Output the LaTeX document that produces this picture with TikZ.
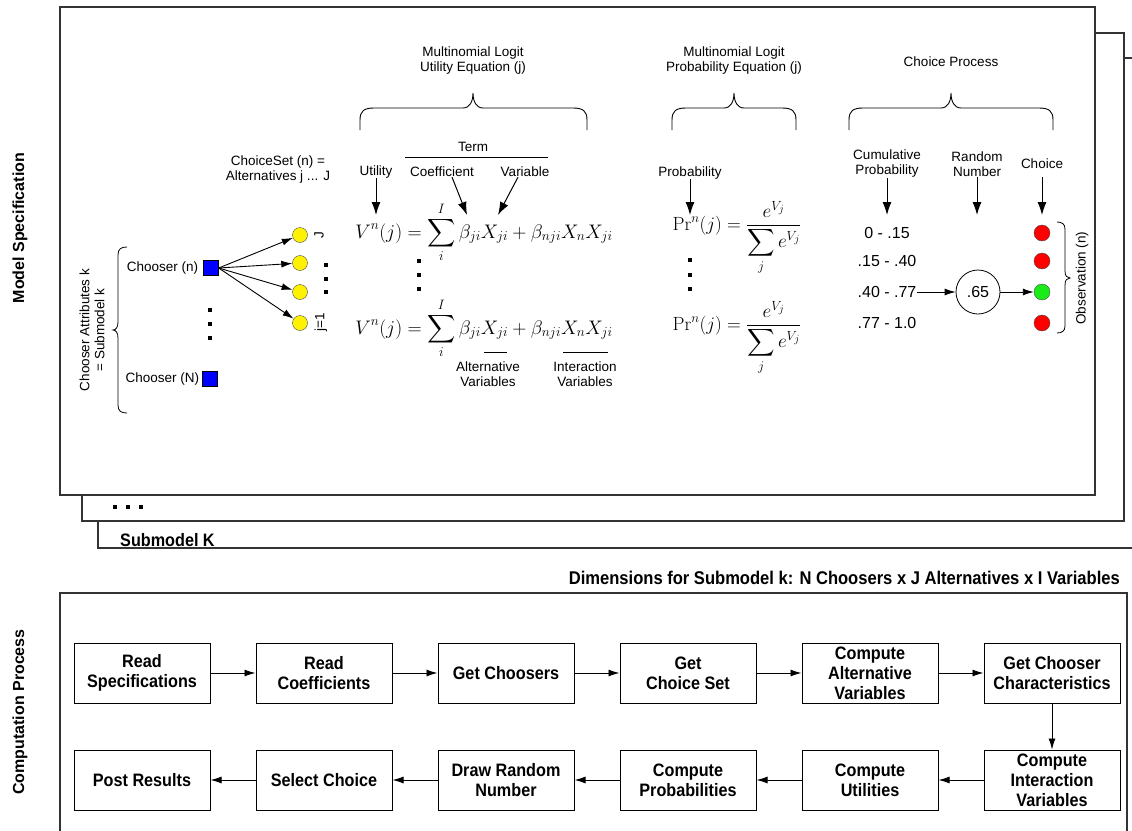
\documentclass[tikz,border=0pt]{standalone}
\usepackage{amsmath}
\usepackage[no-math]{fontspec}
\setmainfont{Liberation Sans}
\newfontfamily\narrowfont[FakeStretch=0.9]{Liberation Sans}
\usetikzlibrary{arrows.meta,positioning}
\definecolor{okgreen}{RGB}{25,235,25}

\tikzset{
  frame/.style={draw=black!80, line width=1.2pt},
  txt/.style={font=\fontsize{13.5}{15}\selectfont, align=center, inner sep=0pt},
  val/.style={font=\fontsize{16}{18}\selectfont, inner sep=0pt},
  side/.style={font=\bfseries\fontsize{16}{18}\selectfont, rotate=90, inner sep=0pt},
  heavy/.style={font=\narrowfont\bfseries\fontsize{18}{20}\selectfont, inner sep=0pt},
  procbox/.style={draw, line width=1pt, minimum width=136pt, minimum height=60pt, inner sep=0pt, align=center, font=\narrowfont\bfseries\fontsize{18}{20}\selectfont},
  arr/.style={line width=0.9pt, -{Latex[length=11pt,width=7pt]}},
  bigarr/.style={line width=1pt, -{Latex[length=13pt,width=9pt]}},
  chooser/.style={draw, fill=blue, minimum size=15pt, inner sep=0pt},
  alt/.style={circle, draw=black!70, fill=yellow, minimum size=15pt, inner sep=0pt},
  pick/.style={circle, draw=black!70, minimum size=16pt, inner sep=0pt},
  eq/.style={font=\fontsize{20.74}{24}\selectfont, inner sep=0pt, anchor=base},
}

\begin{document}
\begin{tikzpicture}[x=1pt,y=-1pt]
	\useasboundingbox (0,0) rectangle (1132,830);
	\clip (0,0) rectangle (1132,830); % Clips the stacked frames...

	% stacked submodel frames
	\draw[frame,fill=white] (98,58) rectangle (1160,548);
	\draw[frame,fill=white] (82,33) rectangle (1124,521);
	\draw[frame,fill=white] (60,7) rectangle (1095,495);
	\draw[frame] (60,593) rectangle (1127,850);

	\node[side] (ModelSpec) at (20,228) {Model Specification};
	\node[side] (CompProc) at (20,712) {Computation Process};
	\foreach \X in {115,128,141}{\fill (\X-2,505) rectangle (\X+2,509);}
	\node[heavy, anchor=west] (SubK) at (120,540) {Submodel K};
	\node[heavy, anchor=east, font=\narrowfont\bfseries\fontsize{18.4}{20}\selectfont] (Dims) at (1120,578) {Dimensions for Submodel k: N Choosers x J Alternatives x I Variables};

	% choosers and choice set
	\node[chooser] (ChooserN) at (211,268) {};
	\node[chooser] (ChooserBigN) at (210,379) {};
	\node[txt, left=5pt of ChooserN] (ChooserNTxt) {Chooser (n)};
	\node[txt, left=3pt of ChooserBigN] (ChooserBigNTxt) {Chooser (N)};
	\foreach \Y in {310,324,338}{\fill (208,\Y-2) rectangle (212,\Y+2);}
	\draw[line width=0.8pt] (127,247) .. controls (121,247) and (118,249) .. (118,255) -- (118,322)
		.. controls (118,327) and (116,330) .. (113,330) .. controls (116,330) and (118,333) .. (118,338)
		-- (118,405) .. controls (118,411) and (121,413) .. (127,413);
	\node[txt, rotate=90] (Attr) at (92,330) {Chooser Attributes k\\= Submodel k};

	\node[txt] (ChoiceSet) at (278,170) {ChoiceSet (n) =\\Alternatives j ... J};
	\foreach \Y [count=\i] in {235,263,292,323}{\node[alt] (Alt\i) at (300,\Y) {};}
	\foreach \i in {1,...,4}{\draw[arr] (ChooserN.east) -- (Alt\i);}
	\node[txt, rotate=90] (BigJ) at (319,235) {J};
	\node[txt, rotate=90] (JOne) at (321,322) {j=1};
	\foreach \Y in {265,279,292}{\fill (324,\Y-2) rectangle (328,\Y+2);}

	% braces over the three parts
	\foreach \L/\M/\R in {360/473/587,672/734/796,849/951/1053}{
		\draw[line width=0.9pt] (\L,130) -- (\L,120) .. controls (\L,111) and (\L+4,108) .. (\L+14,108) -- (\M-10,108)
			.. controls (\M-3,108) and (\M,101) .. (\M,93) .. controls (\M,101) and (\M+3,108) .. (\M+10,108)
			-- (\R-14,108) .. controls (\R-4,108) and (\R,111) .. (\R,120) -- (\R,130);
	}
	\node[txt] (UtilTitle) at (473,61) {Multinomial Logit\\Utility Equation (j)};
	\node[txt] (ProbTitle) at (734,61) {Multinomial Logit\\Probability Equation (j)};
	\node[txt] (ChoiceTitle) at (951,62) {Choice Process};

	% utility equation
	\node[txt] (Term) at (473,147) {Term};
	\draw[line width=1pt] (405,157) -- (548,157);
	\node[txt] (Utility) at (376,172) {Utility};
	\node[txt] (Coef) at (442,172) {Coefficient};
	\node[txt] (Var) at (525,172) {Variable};
	\coordinate (UtilTip) at (376,215);
	\coordinate (CoefTip) at (467,215);
	\coordinate (VarTip) at (498,215);
	\draw[bigarr] (Utility) -- (UtilTip);
	\draw[bigarr] ([xshift=10pt]Coef.south) -- (CoefTip);
	\draw[bigarr] ([xshift=-7pt]Var.south) -- (VarTip);
	\node[eq, scale=0.945] (UtilEqA) at (484,238) {$\displaystyle V^n(j)=\sum_i^I\beta_{ji}X_{ji}+\beta_{nji}X_nX_{ji}$};
	\foreach \Y in {261,275,289}{\fill (417,\Y-2) rectangle (421,\Y+2);}
	\node[eq, scale=0.945] (UtilEqB) at (484,334) {$\displaystyle V^n(j)=\sum_i^I\beta_{ji}X_{ji}+\beta_{nji}X_nX_{ji}$};
	\draw (484,352) -- (507,352);
	\draw (563,352) -- (608,352);
	\node[txt] (AltVars) at (488,374) {Alternative\\Variables};
	\node[txt] (InterVars) at (585,374) {Interaction\\Variables};

	% probability equation
	\node[txt] (Prob) at (690,173) {Probability};
	\coordinate (ProbTip) at (690,215);
	\draw[bigarr] (Prob) -- (ProbTip);
	\node[eq, scale=0.92] (ProbEqA) at (737,230) {$\displaystyle \mathrm{Pr}^n(j)=\frac{e^{V_j}}{\displaystyle\sum_j e^{V_j}}$};
	\foreach \Y in {260,275,289}{\fill (688,\Y-2) rectangle (692,\Y+2);}
	\node[eq, scale=0.92] (ProbEqB) at (737,330) {$\displaystyle \mathrm{Pr}^n(j)=\frac{e^{V_j}}{\displaystyle\sum_j e^{V_j}}$};

	% choice process
	\node[txt] (Cumul) at (887,164) {Cumulative\\Probability};
	\node[txt] (RandNum) at (977,164) {Random\\Number};
	\node[txt] (ChoiceLbl) at (1042,164) {Choice};
	\coordinate (CumulTip) at (887,215);
	\coordinate (RandTip) at (977,215);
	\coordinate (ChoiceTip) at (1042,215);
	\draw[bigarr] (Cumul) -- (CumulTip);
	\draw[bigarr] (RandNum) -- (RandTip);
	\draw[bigarr, shorten <=8pt] (ChoiceLbl) -- (ChoiceTip);
	\node[val] (CumA) at (887,233) {0 - .15};
	\node[val] (CumB) at (887,261) {.15 - .40};
	\node[val] (CumC) at (887,292) {.40 - .77};
	\node[val] (CumD) at (887,323) {.77 - 1.0};
	\node[val, circle, draw, line width=0.8pt, minimum size=44pt] (Rand) at (978,292) {.65};
	\foreach \Y/\C [count=\i] in {233/red,261/red,292/okgreen,323/red}{\node[pick, fill=\C] (Pick\i) at (1042,\Y) {};}
	\draw[arr] (CumC) -- (Rand);
	\draw[arr] (Rand) -- (Pick3);
	\draw[line width=0.8pt] (1057,222) .. controls (1062,222) and (1065,224) .. (1065,229) -- (1065,271)
		.. controls (1065,276) and (1067,278) .. (1070,278) .. controls (1067,278) and (1065,280) .. (1065,285)
		-- (1065,326) .. controls (1065,331) and (1062,333) .. (1057,333);
	\node[txt, rotate=90] (Obs) at (1082,278) {Observation (n)};

	% computation process
	\node[procbox] (ReadSpec) at (142,673) {Read\\Specifications};
	\node[procbox, right=45pt of ReadSpec] (ReadCoef) {Read\\Coefficients};
	\node[procbox, right=45pt of ReadCoef] (GetChoosers) {Get Choosers};
	\node[procbox, right=45pt of GetChoosers] (GetChoiceSet) {Get\\Choice Set};
	\node[procbox, right=45pt of GetChoiceSet] (CompAlt) {Compute\\Alternative\\Variables};
	\node[procbox, right=45pt of CompAlt] (ChooserChar) {Get Chooser\\Characteristics};
	\node[procbox, below=46pt of ChooserChar] (CompInter) {Compute\\Interaction\\Variables};
	\node[procbox, left=45pt of CompInter] (CompUtil) {Compute\\Utilities};
	\node[procbox, left=45pt of CompUtil] (CompProb) {Compute\\Probabilities};
	\node[procbox, left=45pt of CompProb] (DrawRand) {Draw Random\\Number};
	\node[procbox, left=45pt of DrawRand] (SelChoice) {Select Choice};
	\node[procbox, left=45pt of SelChoice] (PostRes) {Post Results};
	\foreach \A/\B in {ReadSpec/ReadCoef,ReadCoef/GetChoosers,GetChoosers/GetChoiceSet,GetChoiceSet/CompAlt,CompAlt/ChooserChar,ChooserChar/CompInter,CompInter/CompUtil,CompUtil/CompProb,CompProb/DrawRand,DrawRand/SelChoice,SelChoice/PostRes}{\draw[arr] (\A) -- (\B);}
\end{tikzpicture}
\end{document}
